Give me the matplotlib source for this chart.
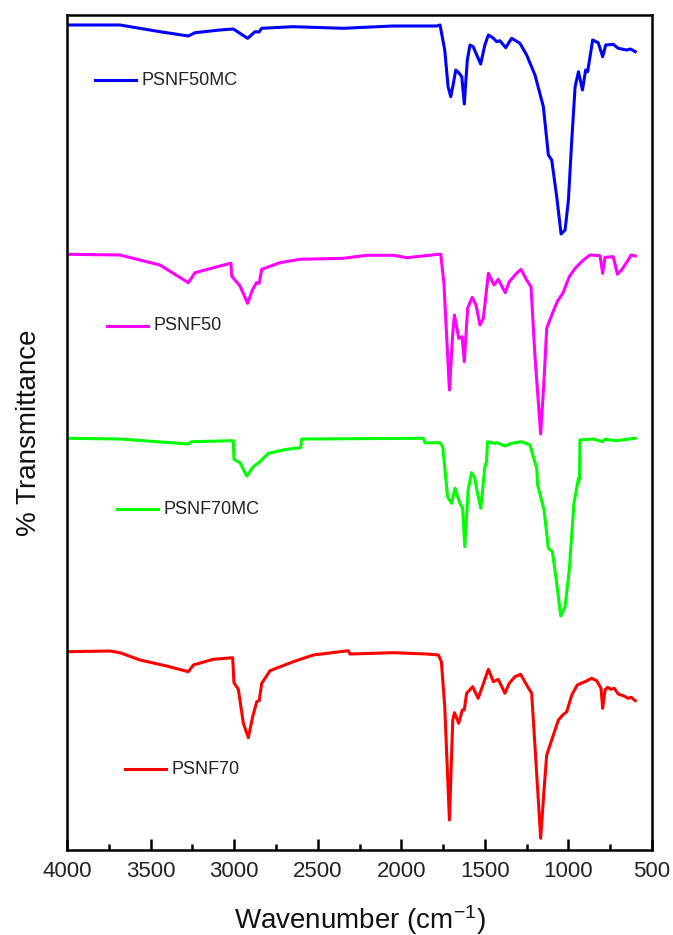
import matplotlib
matplotlib.use("Agg")
import matplotlib.pyplot as plt
from matplotlib.ticker import MultipleLocator

plt.rcParams['font.family'] = ['Liberation Sans', 'DejaVu Sans']
plt.rcParams['mathtext.default'] = 'regular'

# ---- data (wavenumber in cm^-1, stacked transmittance in arbitrary units) ----
labels = ["PSNF50MC", "PSNF50", "PSNF70MC", "PSNF70"]
colors = ["#0000FF", "#FF00FF", "#00FF00", "#FF0000"]

wn_psnf50mc = [4000, 3683, 3444, 3274, 3234, 3085, 3005, 2919, 2875, 2851,
               2835, 2648, 2349, 2050, 1788, 1768, 1740, 1720, 1704, 1690,
               1674, 1655, 1638, 1623, 1605, 1589, 1570, 1525, 1500, 1479,
               1450, 1429, 1410, 1375, 1340, 1290, 1250, 1200, 1150, 1120,
               1100, 1070, 1044, 1020, 1000, 980, 960, 940, 916, 897,
               885, 855, 822, 795, 777, 732, 702, 652, 628, 600]
t_psnf50mc = [831, 831, 824.3, 820, 823.3, 826, 827, 817.7, 824.3, 824,
              827.7, 829.3, 827.7, 830, 830, 831, 806, 769.3, 759.3, 771,
              786, 783, 779.3, 752, 796, 811, 809.3, 792, 811, 821,
              818, 814.3, 815.3, 808.3, 817.7, 812.7, 801, 781, 749.3, 701,
              696, 659.3, 622, 626, 656, 716, 769.3, 784.3, 766, 786,
              784.3, 816, 813.3, 799.3, 811, 811.7, 807.7, 806, 807, 804.3]

wn_psnf50 = [4000, 3683, 3444, 3274, 3234, 3085, 3019, 3015, 2965, 2919,
             2891, 2866, 2850, 2835, 2726, 2606, 2347, 2207, 2047, 1967,
             1778, 1764, 1745, 1712, 1692, 1682, 1656, 1636, 1623, 1603,
             1576, 1553, 1529, 1509, 1479, 1445, 1420, 1378, 1354, 1310,
             1284, 1250, 1224, 1200, 1166, 1146, 1130, 1100, 1067, 1031,
             995, 960, 910, 871, 811, 795, 781, 732, 707, 682,
             642, 625, 600]
t_psnf50 = [601.7, 601, 591, 573.3, 583.3, 590, 592.7, 580, 570, 552.7,
            566, 573.3, 572.7, 586.7, 593.3, 596.7, 597.7, 600.7, 600.7, 598.3,
            601.7, 601.7, 573, 466, 522.7, 541, 517.7, 519.3, 494.3, 547.7,
            558.7, 551, 531, 537.7, 582.7, 571, 576.7, 563.3, 574.3, 582.7,
            586.7, 576, 569.3, 499.3, 422, 476, 527.7, 541, 554.3, 563.7,
            579.3, 587.7, 596, 601, 600.3, 582.7, 598.7, 599.3, 581.7, 586,
            596, 601, 600]

wn_psnf70mc = [4000, 3683, 3274, 3254, 3005, 3001, 2965, 2925, 2885, 2845,
               2795, 2686, 2602, 2596, 1868, 1858, 1768, 1752, 1723, 1699,
               1679, 1649, 1633, 1620, 1600, 1580, 1560, 1546, 1524, 1500,
               1490, 1484, 1440, 1425, 1380, 1340, 1280, 1230, 1190, 1184,
               1146, 1120, 1096, 1070, 1046, 1020, 995, 967, 940, 934,
               931, 851, 795, 781, 711, 600]
t_psnf70mc = [417.7, 417, 412, 414.3, 415.3, 396.7, 393.3, 380, 389.3, 394.3,
              402.7, 406.7, 408.3, 417, 417.7, 413.3, 413.3, 409.3, 359.3, 352.7,
              367.7, 352.7, 347.7, 309.3, 366, 383.3, 377.7, 364.3, 347.7, 389.3,
              394.3, 414.3, 412.7, 413.3, 410, 412.7, 414.3, 411, 387.7, 371,
              346, 307.7, 304.3, 272.7, 240, 249.3, 286, 352.7, 377.7, 376,
              416, 417, 414.3, 416.7, 415.3, 417.7]

wn_psnf70 = [4000, 3743, 3683, 3563, 3404, 3274, 3244, 3125, 3009, 3001, 2975, 2945,
             2915, 2889, 2865, 2850, 2835, 2785, 2646, 2526, 2317, 2307,
             2047, 1848, 1778, 1760, 1740, 1712, 1692, 1682, 1656, 1635,
             1623, 1609, 1573, 1540, 1508, 1479, 1449, 1420, 1380, 1354,
             1320, 1286, 1250, 1220, 1200, 1166, 1146, 1130, 1100, 1060,
             1034, 1010, 980, 947, 901, 861, 831, 805, 795, 781,
             765, 745, 726, 702, 672, 642, 625, 600]
t_psnf70 = [204.3, 205, 203.3, 196, 190, 184.3, 191, 196.7, 198.3, 173.3, 166.7, 132.7,
            118.3, 139.3, 154.3, 155.3, 172.7, 185.3, 194.3, 201, 205.3, 202,
            203.3, 202, 201, 194.3, 149.3, 36, 136, 143.3, 132.7, 146,
            146, 162.7, 169.3, 157.7, 172.7, 186.7, 174.3, 176.7, 162.7, 172.7,
            179.3, 181.7, 171, 162.7, 109.3, 17.7, 66, 101, 116, 136,
            141, 144.3, 161, 171, 174.3, 177.7, 175.3, 167.7, 147.7, 166,
            168.7, 166.7, 167.7, 162, 160.3, 157.7, 158.7, 155.3]

x_ticks = [4000, 3500, 3000, 2500, 2000, 1500, 1000, 500]

series = [(wn_psnf50mc, t_psnf50mc), (wn_psnf50, t_psnf50),
          (wn_psnf70mc, t_psnf70mc), (wn_psnf70, t_psnf70)]

# label positions (axes fraction): line start, line end, y
label_pos = [(0.048, 0.118, 0.922), (0.068, 0.139, 0.628),
             (0.085, 0.156, 0.408), (0.099, 0.170, 0.097)]

fig = plt.figure(figsize=(6.73, 9.35), dpi=100)
ax = fig.add_axes([67/673, 1-850/935, 585/673, 835/935])

for (wn, t), c in zip(series, colors):
    assert len(wn) == len(t)
    ax.plot(wn, t, color=c, lw=2.2, solid_joinstyle='round')

for (x0, x1, y), lab, c in zip(label_pos, labels, colors):
    ax.plot([x0, x1], [y, y], color=c, lw=2.2, transform=ax.transAxes)
    ax.text(x1 + 0.009, y, lab, color='#222222', fontsize=13,
            va='center', ha='left', transform=ax.transAxes)

ax.set_xlim(4000, 500)
ax.set_ylim(6, 841)
ax.set_xticks(x_ticks)
ax.xaxis.set_minor_locator(MultipleLocator(250))
ax.set_yticks([])
ax.tick_params(axis='x', which='major', direction='in', length=8, width=1.8,
               labelsize=16, pad=8, colors='black', labelcolor='#222222')
ax.tick_params(axis='x', which='minor', direction='in', length=4.5, width=1.8)
for sp in ax.spines.values():
    sp.set_linewidth(1.8)

ax.set_xlabel('Wavenumber (cm$^{-1}$)', fontsize=20, labelpad=15, color='#111111')
ax.set_ylabel('% Transmittance', fontsize=20, labelpad=18, color='#111111')

fig.savefig('out.png', dpi=100)
